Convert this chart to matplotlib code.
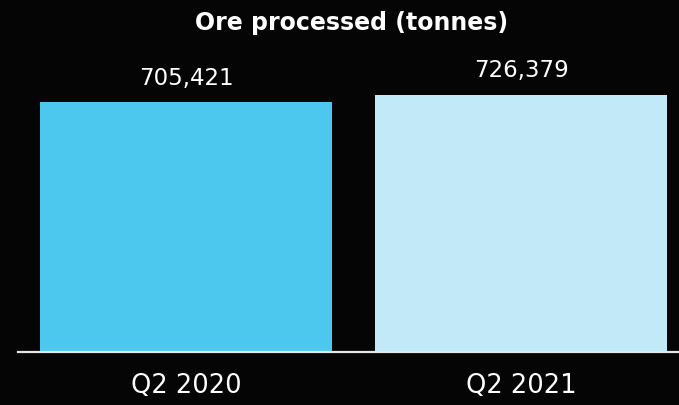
import matplotlib
matplotlib.use("Agg")
import matplotlib.pyplot as plt

# datos del grafico
periodos = ["Q2 2020", "Q2 2021"]
mineral = [705421, 726379]
colores = ["#4cc8ee", "#c1e9f7"]
titulo = "Ore processed (tonnes)"

plt.rcParams['font.family'] = ['DejaVu Sans']

fig = plt.figure(figsize=(6.79, 4.05), dpi=100, facecolor="#050505")
ax = fig.add_axes([18/679, 53/405, 661/679, 352/405], facecolor="#050505")

pos = range(len(periodos))
barras = ax.bar(pos, mineral, width=0.872, color=colores)

for x, v in zip(pos, mineral):
    ax.annotate(f"{v:,}", (x, v), xytext=(0, 9), textcoords="offset points",
                ha="center", va="bottom", color="white", fontsize=16.5)

ax.set_xlim(-0.5015, 1.4716)
ax.set_ylim(0, 352 * mineral[0] / 250)
ax.set_yticks([])
ax.set_xticks(list(pos))
ax.set_xticklabels(periodos, color="white", fontsize=18.5)
ax.tick_params(axis="x", length=0, pad=15)

for lado in ["top", "right", "left"]:
    ax.spines[lado].set_visible(False)
ax.spines["bottom"].set_color("#e6e6e6")
ax.spines["bottom"].set_linewidth(1.6)

fig.text(352/679, 1 - 23/405, titulo, ha="center", va="center", color="white",
         fontsize=17, fontweight="bold")

fig.savefig("out.png", dpi=100, facecolor=fig.get_facecolor())
